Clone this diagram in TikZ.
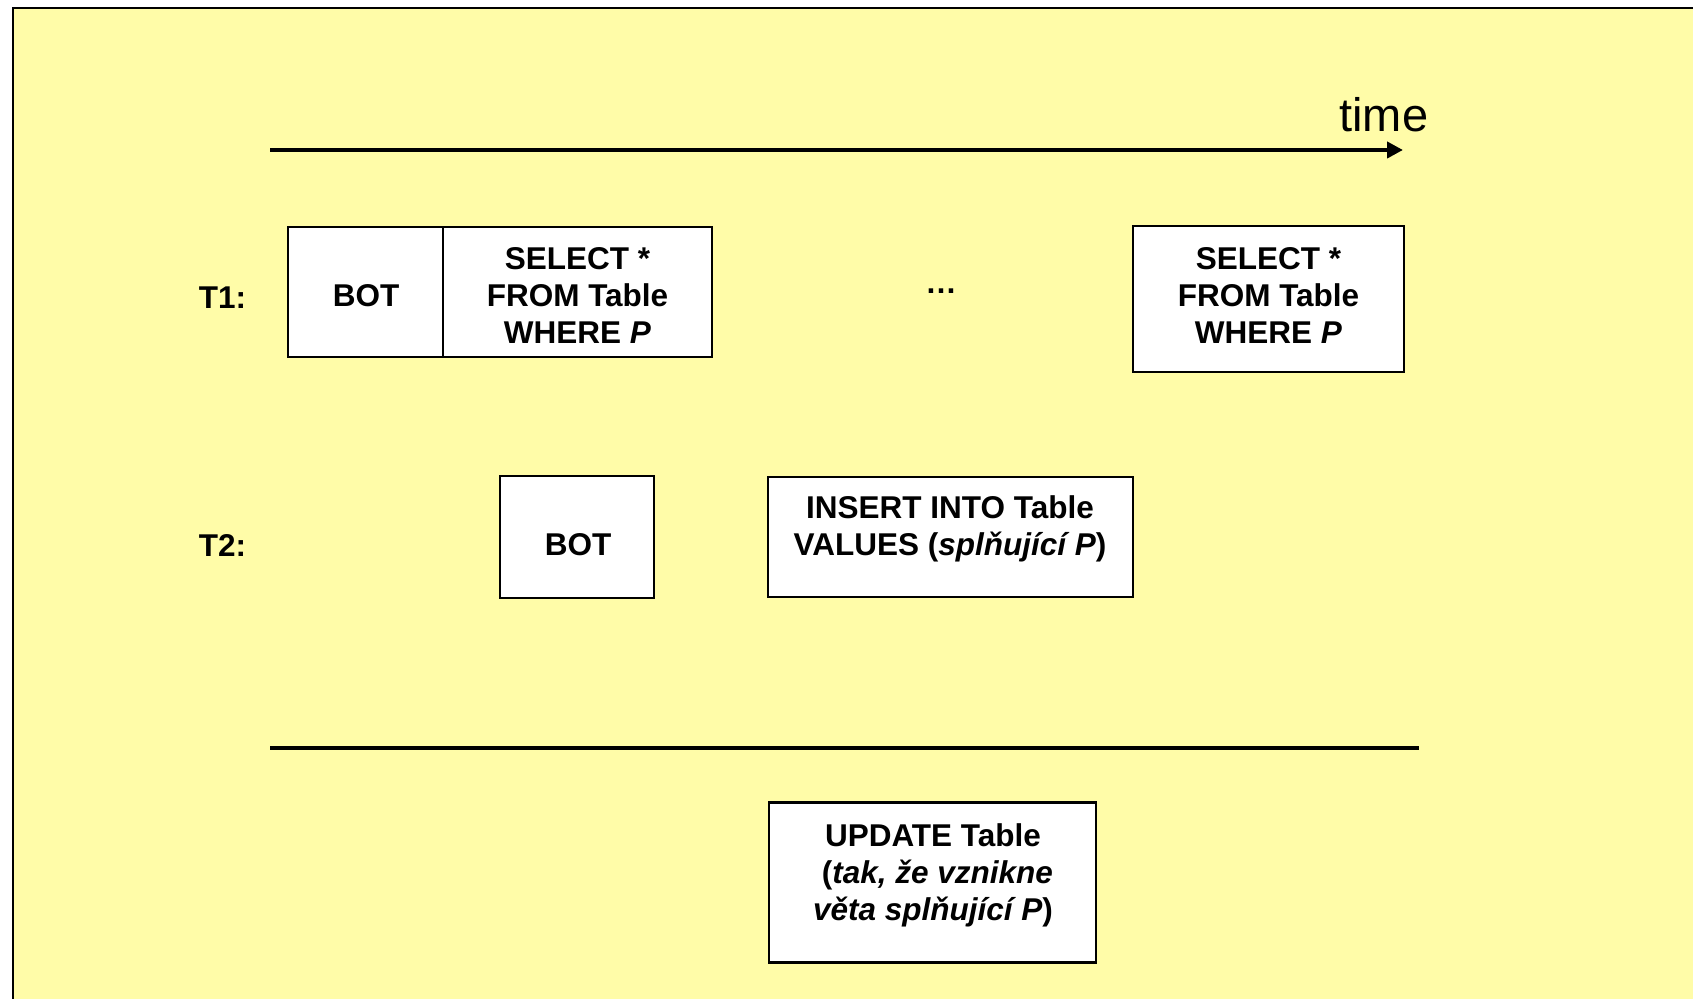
\documentclass[tikz,border=0pt]{standalone}
\usepackage{fontspec}
\setmainfont{Liberation Sans}
\usetikzlibrary{arrows.meta}
\definecolor{bgyellow}{RGB}{255,252,168}
\begin{document}
\begin{tikzpicture}[x=0.5pt,y=-0.5pt,
  boxshape/.style={draw=black,fill=white,line width=1.3pt,inner sep=0pt,outer sep=0pt},
  boxtext/.style={inner sep=0pt,align=center,font=\fontsize{15.75}{18.5}\selectfont\bfseries},
  label/.style={inner sep=0pt,font=\fontsize{15.75}{18.5}\selectfont\bfseries},
  axis/.style={line width=2.2pt}]
\useasboundingbox (0,0) rectangle (1693,999);
\fill[white] (0,0) rectangle (1693,999);
\fill[bgyellow] (13,8) rectangle (1693,999);
\draw[line width=1pt] (13,999) -- (13,8) -- (1693,8);

% time axis
\coordinate (ta) at (270,150);
\coordinate (tb) at (1403,150);
\draw[axis,-{Triangle[length=8pt,width=8pt]}] (ta) -- (tb);
\node[inner sep=0pt,anchor=base west,font=\fontsize{23.5}{28}\selectfont] (time) at (1339,132) {time};

% bottom separator
\coordinate (la) at (270,748);
\coordinate (lb) at (1419,748);
\draw[axis] (la) -- (lb);

% row labels
\node[label] (t1) at (222.5,298) {T1:};
\node[label] (t2) at (222.5,546) {T2:};

% T1 boxes
\node[boxshape,minimum width=77.5pt,minimum height=65pt] (bot1) at (365.5,292) {};
\node[boxshape,minimum width=134.5pt,minimum height=65pt] (sel1) at (577.5,292) {};
\node[boxtext] (bot1t) at (366,296) {BOT};
\node[boxtext] (sel1t) at (577.5,296) {SELECT *\\FROM Table\\WHERE \textit{P}};

\node[label] (dots) at (941,291) {…};

\node[boxshape,minimum width=135.5pt,minimum height=73pt] (sel2) at (1268.5,299) {};
\node[boxtext] (sel2t) at (1268.5,296) {SELECT *\\FROM Table\\WHERE \textit{P}};

% T2 boxes
\node[boxshape,minimum width=77pt,minimum height=61pt] (bot2) at (577,537) {};
\node[boxtext] (bot2t) at (578,545) {BOT};
\node[boxshape,minimum width=182.5pt,minimum height=60pt] (ins) at (950.5,537) {};
\node[boxtext] (inst) at (950,529) {INSERT INTO Table\\VALUES (\textit{splňující P})};

% update box
\node[boxshape,minimum width=163.5pt,minimum height=80pt] (upd) at (932.5,882.5) {};
\node[boxtext] (updt) at (933,875) {UPDATE Table\\\ (\textit{tak, že vznikne}\\\textit{věta splňující P})};
\end{tikzpicture}
\end{document}
